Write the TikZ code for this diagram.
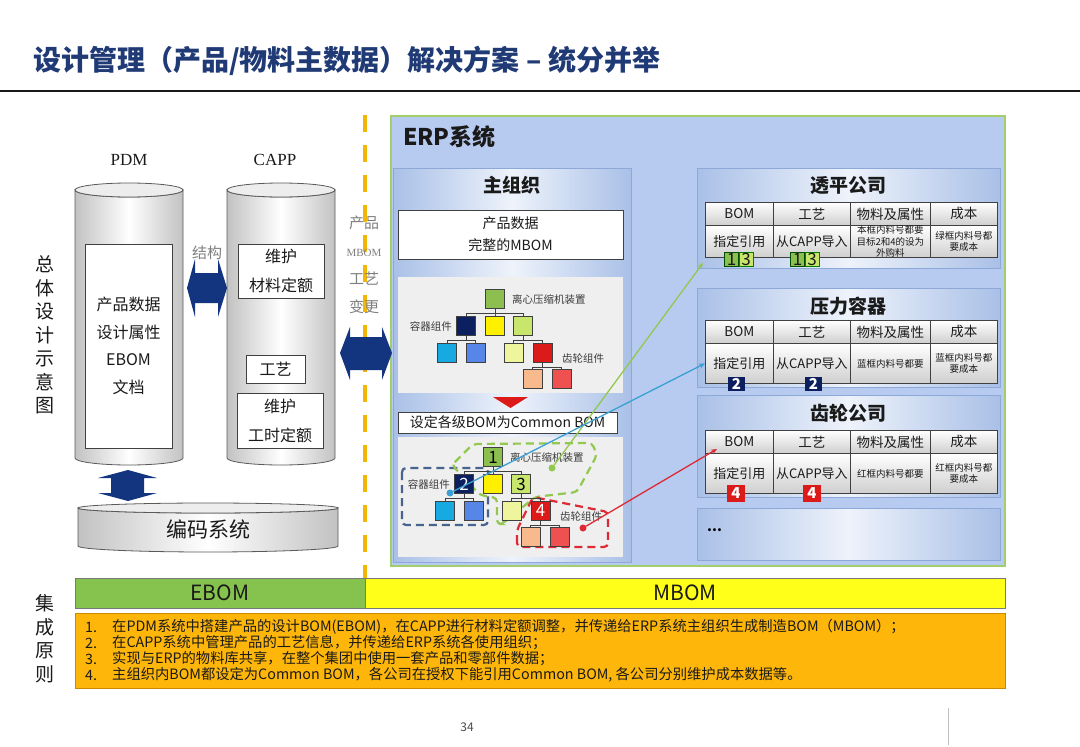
\documentclass[tikz,border=0pt]{standalone}
\usepackage{fontspec}
\setmainfont{Noto Sans CJK SC}
\newfontfamily\serifen{Liberation Serif}
\usepackage{tikz}
\usetikzlibrary{arrows.meta,positioning}
\definecolor{titleblue}{HTML}{1F3A75}
\definecolor{ink}{HTML}{1A1A1A}
\definecolor{muted}{HTML}{7F7F7F}
\definecolor{cylside}{HTML}{C2C2C2}
\definecolor{cylbd}{HTML}{5A5A5A}
\definecolor{boxbd}{HTML}{404040}
\definecolor{arrownavy}{HTML}{13357F}
\definecolor{gold}{HTML}{F2B705}
\definecolor{erpfill}{HTML}{B7CBF0}
\definecolor{erpbd}{HTML}{A2CF6C}
\definecolor{panelside}{HTML}{A9C0E7}
\definecolor{panelmid}{HTML}{EEF3FB}
\definecolor{panelbd}{HTML}{8EA9D8}
\definecolor{treebg}{HTML}{EFEFEF}
\definecolor{cellgray}{HTML}{CFCFCF}
\definecolor{sqgreen}{HTML}{8CBF4F}
\definecolor{sqnavy}{HTML}{0C1F5E}
\definecolor{sqyellow}{HTML}{FFF000}
\definecolor{sqlgreen}{HTML}{C8E66B}
\definecolor{sqcyan}{HTML}{17A9E1}
\definecolor{sqblue}{HTML}{5586E8}
\definecolor{sqpale}{HTML}{EEF59C}
\definecolor{sqred}{HTML}{DD1A1A}
\definecolor{sqpeach}{HTML}{F8B98C}
\definecolor{sqlred}{HTML}{EF5050}
\definecolor{lnkgreen}{HTML}{92C84F}
\definecolor{lnkblue}{HTML}{3A9FD5}
\definecolor{lnkred}{HTML}{DD2A35}
\definecolor{dashslate}{HTML}{46648F}
\definecolor{ebomgreen}{HTML}{86C24E}
\definecolor{mbomyellow}{HTML}{FFFF1A}
\definecolor{orangebg}{HTML}{FFB60A}
\definecolor{orangebd}{HTML}{C98A00}
\tikzset{
  sidecap/.style={align=center,inner sep=0,text=ink,
                  font=\fontsize{19}{23.5}\selectfont},
  syslabel/.style={inner sep=0,text=ink,font=\serifen\fontsize{17}{20}\selectfont},
  cyl/.style={draw=cylbd,line width=0.8pt,left color=cylside,
              right color=cylside,middle color=white},
  cyltop/.style={draw=cylbd,line width=0.8pt,fill=white!93!black},
  whitebox/.style={draw=boxbd,fill=white,line width=0.8pt,align=center,
                   inner sep=0,text=ink,font=\fontsize{16}{29}\selectfont},
  fatarrow/.style={fill=arrownavy},
  graylabel/.style={inner sep=0,text=muted,align=center,
                    font=\fontsize{15}{28}\selectfont},
  divider/.style={draw=gold,line width=4pt,dash pattern=on 17pt off 13pt},
  panel/.style={draw=panelbd,line width=0.6pt,left color=panelside,
                right color=panelside,middle color=panelmid},
  paneltitle/.style={inner sep=0,text=ink,font=\fontsize{19}{22}\selectfont\bfseries},
  bomsq/.style={draw=boxbd,line width=0.7pt,minimum size=19pt,inner sep=0,
                font=\fontsize{17}{18}\selectfont},
  treeline/.style={draw=boxbd,line width=0.6pt},
  treelabel/.style={inner sep=0,text=ink!85,font=\fontsize{10.5}{12}\selectfont},
  headcell/.style={draw=boxbd,line width=0.8pt,top color=white,
                   bottom color=cellgray,minimum height=23pt,inner sep=0,
                   text=ink,font=\fontsize{13.5}{15}\selectfont},
  bodycell/.style={headcell,font=\fontsize{13}{15}\selectfont},
  smallcell/.style={headcell,align=center,font=\fontsize{9.5}{11.5}\selectfont},
  badge/.style={draw=black!70!green,line width=0.9pt,minimum width=14pt,
                minimum height=14pt,inner sep=0,text=ink,
                font=\fontsize{17}{17}\selectfont},
  numbadge/.style={inner sep=0,text=white,font=\fontsize{15}{15}\selectfont\bfseries},
  dot/.style={circle,inner sep=0,minimum size=7pt},
  lnk/.style={line width=1.3pt,-{Stealth[length=6pt,width=5pt]}},
  dashbox/.style={line width=2.2pt,dash pattern=on 8pt off 5pt,rounded corners=4pt},
  bombar/.style={draw=boxbd!70,line width=0.6pt,minimum height=30pt,inner sep=0,
                 text=ink,font=\fontsize{21}{24}\selectfont},
  ruletext/.style={inner sep=0,text=ink,font=\fontsize{14.3}{15}\selectfont},
}
\begin{document}
\begin{tikzpicture}[x=1pt,y=-1pt]
  \useasboundingbox[fill=white] (0,0) rectangle (1080,747);

  % Title
  \node[anchor=west,inner sep=0,text=titleblue,
        font=\fontsize{28}{32}\selectfont\bfseries] (title) at (33,61)
    {设计管理（产品/物料主数据）解决方案 – 统分并举};
  \draw[ink,line width=2.6pt] (0,91) -- (1080,91);

  % Side captions
  \node[sidecap] (overview) at (45,335) {总\\体\\设\\计\\示\\意\\图};
  \node[sidecap] (rules) at (45,639) {集\\成\\原\\则};

  % PDM and CAPP cylinders
  \foreach \cx in {129,281}{
    \draw[cyl] (\cx-54,190) -- (\cx-54,458) arc (180:0:54 and 7)
      -- (\cx+54,190) arc (0:180:54 and 7) -- cycle;
    \draw[cyltop] (\cx,190) ellipse (54 and 7);
  }
  \node[syslabel] (pdm) at (129,160) {PDM};
  \node[syslabel] (capp) at (275,160) {CAPP};
  \node[whitebox,minimum width=87pt,minimum height=204pt,
        font=\fontsize{16}{27.5}\selectfont] (pdmdata) at (128.5,346)
    {产品数据\\设计属性\\EBOM\\文档};
  \node[whitebox,minimum width=86pt,minimum height=54pt] (matquota) at (281,271)
    {维护\\材料定额};
  \node[whitebox,minimum width=59pt,minimum height=28pt] (process) at (275.5,369)
    {工艺};
  \node[whitebox,minimum width=86pt,minimum height=55pt] (hourquota) at (280,420.5)
    {维护\\工时定额};

  % Coding system disk
  \draw[cyl] (78,508) -- (78,546) arc (180:0:130 and 6)
    -- (338,508) arc (0:180:130 and 5) -- cycle;
  \draw[cyltop] (208,508) ellipse (130 and 5);
  \node[inner sep=0,text=ink,font=\fontsize{21}{24}\selectfont] (coding)
    at (208,529) {编码系统};

  % Fat double arrows
  \fill[fatarrow] (187,288) -- (195,259) -- (195,273) -- (218,273) -- (218,259)
    -- (227,288) -- (218,317) -- (218,303) -- (195,303) -- (195,317) -- cycle;
  \node[graylabel] (structure) at (207,253) {结构};
  \fill[fatarrow] (128,470) -- (157,478) -- (144,478) -- (144,493) -- (157,493)
    -- (128,501) -- (98,493) -- (111,493) -- (111,478) -- (98,478) -- cycle;

  % Divider between PDM/CAPP and ERP
  \draw[divider] (365,115) -- (365,578);
  \node[graylabel] (change) at (364,265)
    {产品\\{\serifen\fontsize{11}{12}\selectfont MBOM}\\工艺\\变更};

  % ERP system
  \draw[fill=erpfill,draw=erpbd,line width=2pt] (391,116) rectangle (1005,566);
  \node[anchor=west,inner sep=0,text=ink,
        font=\fontsize{23}{26}\selectfont\bfseries] (erp) at (403,137) {ERP系统};

  % Main organisation
  \draw[panel] (393,168) rectangle (631,562);
  \node[paneltitle] (mainorg) at (512,185) {主组织};
  \node[whitebox,minimum width=225pt,minimum height=49pt,
        font=\fontsize{14}{22}\selectfont] (fullmbom) at (510.5,234.5)
    {产品数据\\完整的MBOM};
  \fill[treebg] (398,277) rectangle (623,393);
  \fill[treebg] (398,437) rectangle (623,557);
  \fill[sqred] (493,397) -- (528,397) -- (510.5,408) -- cycle;
  \node[whitebox,minimum width=219pt,minimum height=21pt,
        font=\fontsize{14}{16}\selectfont] (commonbom) at (507.5,422.5)
    {设定各级BOM为Common BOM};

  % Company scopes in the common BOM
  \draw[dashbox,draw=dashslate] (402,468) rectangle (488,525);
  \draw[dashbox,draw=lnkgreen] (452,465) -- (473,444) -- (592,443) -- (597,455)
    -- (577,492) -- (535,497) -- (502,524) -- (497,524) -- (497,498)
    -- (480,495) -- cycle;
  \draw[dashbox,draw=lnkred] (517,547) -- (517,530) -- (533,497) -- (608,512)
    -- (608,547) -- cycle;

  % BOM trees (before / after common BOM)
  \foreach \dx/\dy/\tr/\na/\nb/\nc/\nd in {0/0/ta/{}/{}/{}/{},-2/158/tb/1/2/3/4}{
    \begin{scope}[shift={(\dx,\dy)}]
      \node[bomsq,fill=sqgreen] (\tr-root) at (495,299) {\na};
      \node[bomsq,fill=sqnavy,text=white] (\tr-a) at (466,326) {\nb};
      \node[bomsq,fill=sqyellow] (\tr-b) at (495,326) {};
      \node[bomsq,fill=sqlgreen] (\tr-c) at (523,326) {\nc};
      \node[bomsq,fill=sqcyan] (\tr-aa) at (447,352.5) {};
      \node[bomsq,fill=sqblue] (\tr-ab) at (475.5,352.5) {};
      \node[bomsq,fill=sqpale] (\tr-ca) at (513.5,352.5) {};
      \node[bomsq,fill=sqred,text=white] (\tr-cb) at (542.5,352.5) {\nd};
      \node[bomsq,fill=sqpeach] (\tr-cba) at (532.5,379) {};
      \node[bomsq,fill=sqlred] (\tr-cbb) at (561.5,379) {};
      \foreach \p/\q in {root/a,root/b,root/c,a/aa,a/ab,c/ca,c/cb,cb/cba,cb/cbb}
        \draw[treeline] (\tr-\p.south) -- ++(0,4.5) -| (\tr-\q.north);
      \node[treelabel,anchor=west] (\tr-lroot) at (512,299) {离心压缩机装置};
      \node[treelabel,anchor=east] (\tr-la) at (452,326) {容器组件};
      \node[treelabel,anchor=west] (\tr-lcb) at (562,358) {齿轮组件};
    \end{scope}
  }

  % Subsidiary companies
  \foreach \cmp/\ttl/\py/\ph/\hy/\bh/\mat/\cost in {
      tp/透平公司/168/100/202/32/{本框内料号都要\\目标2和4的设为\\外购料}/{绿框内料号都\\要成本},
      yl/压力容器/288/99/320/40/{蓝框内料号都要}/{蓝框内料号都\\要成本},
      cl/齿轮公司/395/102/430/40/{红框内料号都要}/{红框内料号都\\要成本}}{
    \draw[panel] (697,\py) rectangle (1000,\py+\ph);
    \node[paneltitle] (\cmp-title) at (848.5,\py+18) {\ttl};
    \foreach \x/\w/\hd/\bd/\st [count=\idx] in {705/68/BOM/指定引用/bodycell,
        773/77/工艺/从CAPP导入/bodycell,850/80/物料及属性/\mat/smallcell,
        930/67/成本/\cost/smallcell}{
      \node[headcell,minimum width=\w pt,anchor=north west] (\cmp-h\idx)
        at (\x,\hy) {\hd};
      \node[\st,minimum width=\w pt,minimum height=\bh pt,anchor=north west]
        (\cmp-b\idx) at (\x,\hy+23) {\bd};
    }
  }
  \draw[panel] (697,508) rectangle (1000,560);
  \node[anchor=west,inner sep=0,font=\fontsize{14}{16}\selectfont\bfseries]
    (more) at (707,530) {...};

  % Reference badges
  \node[badge,fill=sqgreen] (tp-k1) at (731.5,259) {1};
  \node[badge,fill=sqlgreen,draw=black!50!green] (tp-k3) at (746,259) {3};
  \node[badge,fill=sqgreen] (tp-m1) at (797.5,259) {1};
  \node[badge,fill=sqlgreen,draw=black!50!green] (tp-m3) at (812,259) {3};
  \node[numbadge,fill=sqnavy,minimum width=17pt,minimum height=14pt]
    (yl-k2) at (736.5,383.5) {2};
  \node[numbadge,fill=sqnavy,minimum width=17pt,minimum height=14pt]
    (yl-m2) at (813.5,383.5) {2};
  \node[numbadge,fill=sqred,minimum width=18pt,minimum height=17pt]
    (cl-k4) at (736,493.5) {4};
  \node[numbadge,fill=sqred,minimum width=18pt,minimum height=17pt]
    (cl-m4) at (812,493.5) {4};

  % Reference links
  \node[dot,fill=lnkgreen] (gdot) at (552,468) {};
  \node[dot,fill=lnkblue] (bdot) at (450,493) {};
  \node[dot,fill=lnkred] (rdot) at (583,528) {};
  \coordinate (tp-in) at (703,263);
  \coordinate (cl-in) at (717,449);
  \draw[lnk,lnkgreen] (gdot) -- (tp-in);
  \draw[lnk,lnkblue] (bdot) -- (yl-b1.west);
  \draw[lnk,lnkred] (rdot) -- (cl-in);

  % ERP exchange arrow
  \fill[fatarrow] (340,353) -- (350,327) -- (350,337) -- (382,337) -- (382,327)
    -- (392,353) -- (382,380) -- (382,370) -- (350,370) -- (350,380) -- cycle;

  % EBOM / MBOM band
  \node[bombar,fill=ebomgreen,minimum width=290pt] (ebom) at (220,593) {EBOM};
  \node[bombar,fill=mbomyellow,minimum width=640pt] (mbom) at (685,593) {MBOM};

  % Integration principles
  \draw[fill=orangebg,draw=orangebd,line width=0.6pt] (75,613) rectangle (1005,688);
  \foreach \txt [count=\idx] in {
      {在PDM系统中搭建产品的设计BOM(EBOM)，在CAPP进行材料定额调整，并传递给ERP系统主组织生成制造BOM（MBOM）；},
      {在CAPP系统中管理产品的工艺信息，并传递给ERP系统各使用组织；},
      {实现与ERP的物料库共享，在整个集团中使用一套产品和零部件数据；},
      {主组织内BOM都设定为Common BOM，各公司在授权下能引用Common BOM, 各公司分别维护成本数据等。}}{
    \node[ruletext,anchor=west] (num\idx) at (85,611+16*\idx) {\idx.};
    \node[ruletext,anchor=west] (rule\idx) at (112,611+16*\idx) {\txt};
  }

  % Page footer
  \node[inner sep=0,text=black!70,font=\fontsize{12}{14}\selectfont] (page)
    at (467,727) {34};
  \draw[black!25,line width=0.8pt] (948,708) -- (948,745);
\end{tikzpicture}
\end{document}
